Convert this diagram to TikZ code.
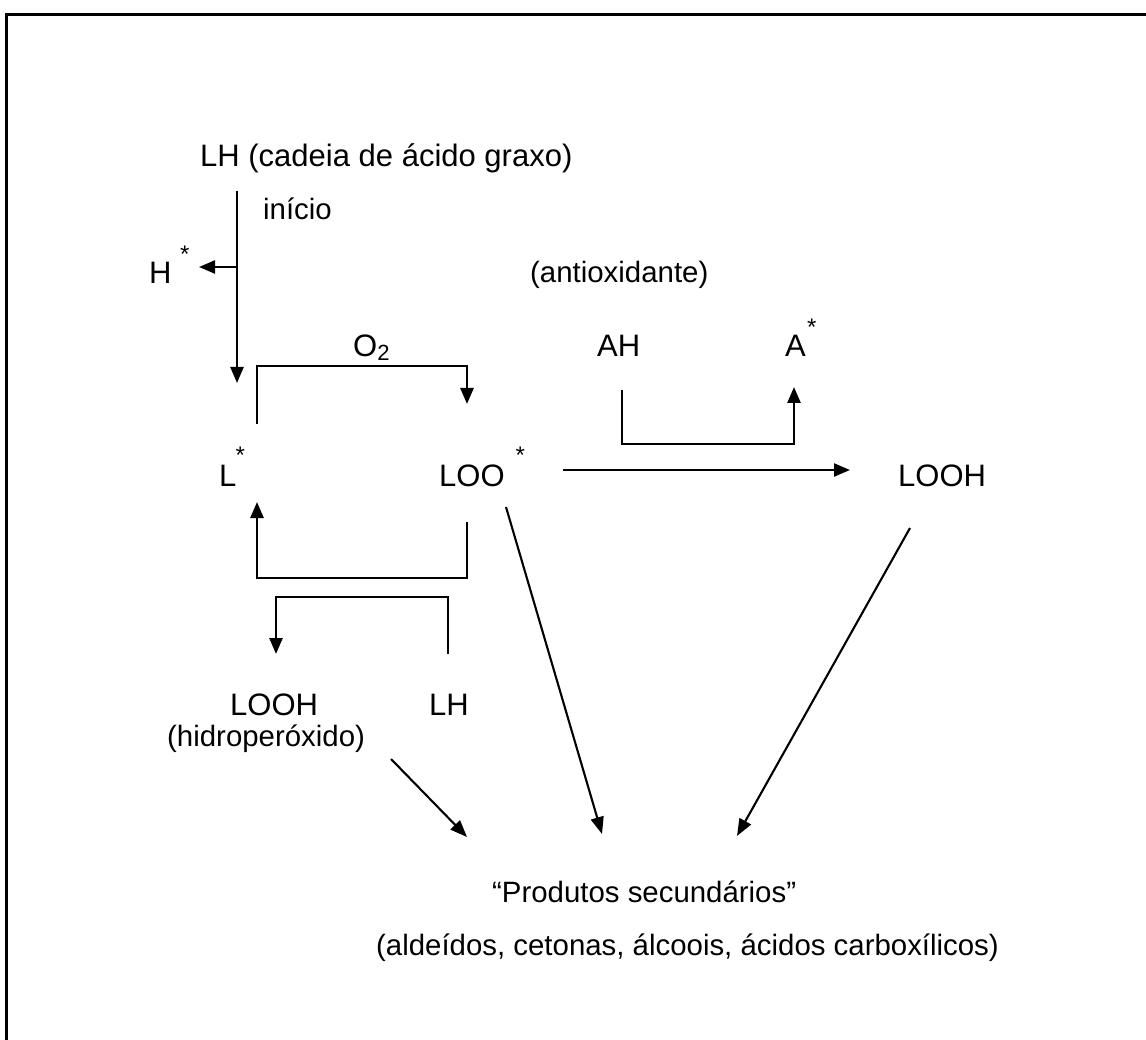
\documentclass[tikz,border=0pt]{standalone}
\usepackage{fontspec}
\setmainfont{Liberation Sans}
\usetikzlibrary{arrows.meta}
\begin{document}
\begin{tikzpicture}[x=1pt,y=-1pt,
  lbl/.style={anchor=base west,inner sep=0pt,font=\fontsize{31}{37}\selectfont},
  sml/.style={anchor=base west,inner sep=0pt,font=\fontsize{29.4}{35}\selectfont},
  ast/.style={anchor=base west,inner sep=0pt,font=\fontsize{24}{28}\selectfont},
  conn/.style={line width=2.6pt,-{Triangle[length=16pt,width=13pt]}},
  diag/.style={line width=2.1pt,-{Triangle[length=17pt,width=13pt]}}]
\useasboundingbox (0,0) rectangle (1146,1040);
% frame (right and bottom edges lie outside the picture)
\draw[line width=2.8pt] (6.5,1045) -- (6.5,14.7) -- (1150,14.7);
% texts
\node[lbl] (lh) at (200,167) {LH (cadeia de ácido graxo)};
\node[sml] (inicio) at (263,220) {início};
\node[lbl] (h) at (149,284) {H};
\node[ast] (hs) at (180,263) {*};
\node[sml] (antiox) at (530,283) {(antioxidante)};
\node[lbl] (o2) at (353,357) {O\raisebox{-4pt}{\fontsize{22}{26}\selectfont 2}};
\node[lbl] (ah) at (597,357) {AH};
\node[lbl] (a) at (785,357) {A};
\node[ast] (as) at (807,336) {*};
\node[lbl] (l) at (219,486) {L};
\node[ast] (ls) at (235.5,464) {*};
\node[lbl] (loo) at (439,486) {LOO};
\node[ast] (loos) at (515.5,464) {*};
\node[lbl] (looh) at (898,486) {LOOH};
\node[lbl] (looh2) at (230,715) {LOOH};
\node[lbl] (lh2) at (429,715) {LH};
\node[sml] (hidro) at (167,746) {(hidroperóxido)};
\node[sml] (prod1) at (492,902) {“Produtos secundários”};
\node[sml] (prod2) at (376,955) {(aldeídos, cetonas, álcoois, ácidos carboxílicos)};
% connector end points
\coordinate (c1) at (237,191);
\coordinate (c2) at (237,383);
\coordinate (c3) at (237,267);
\coordinate (c4) at (199,267);
\coordinate (o2a) at (257,424);
\coordinate (o2b) at (467,404);
\coordinate (ra) at (467,522);
\coordinate (rb) at (257,502);
\coordinate (pa) at (448,654);
\coordinate (pb) at (276,654);
\coordinate (aa) at (622,390);
\coordinate (ab) at (794,387);
\coordinate (ha) at (563,470);
\coordinate (hb) at (850,470);
\coordinate (d1a) at (910,528);
\coordinate (d1b) at (737,836);
\coordinate (d2a) at (506,507);
\coordinate (d2b) at (602,834);
\coordinate (d3a) at (391,759);
\coordinate (d3b) at (467,837);
% connectors
\draw[conn,line width=2.3pt] (c1) -- (c2);
\draw[conn,line width=2.3pt] (c3) -- (c4);
\draw[conn] (o2a) -- (257,366) -- (467,366) -- (o2b);
\draw[conn] (ra) -- (467,578) -- (257,578) -- (rb);
\draw[conn] (pa) -- (448,597) -- (276,597) -- (pb);
\draw[conn] (aa) -- (622,444) -- (794,444) -- (ab);
\draw[conn,line width=2.3pt] (ha) -- (hb);
\draw[diag] (d1a) -- (d1b);
\draw[diag] (d2a) -- (d2b);
\draw[diag] (d3a) -- (d3b);
\end{tikzpicture}
\end{document}
